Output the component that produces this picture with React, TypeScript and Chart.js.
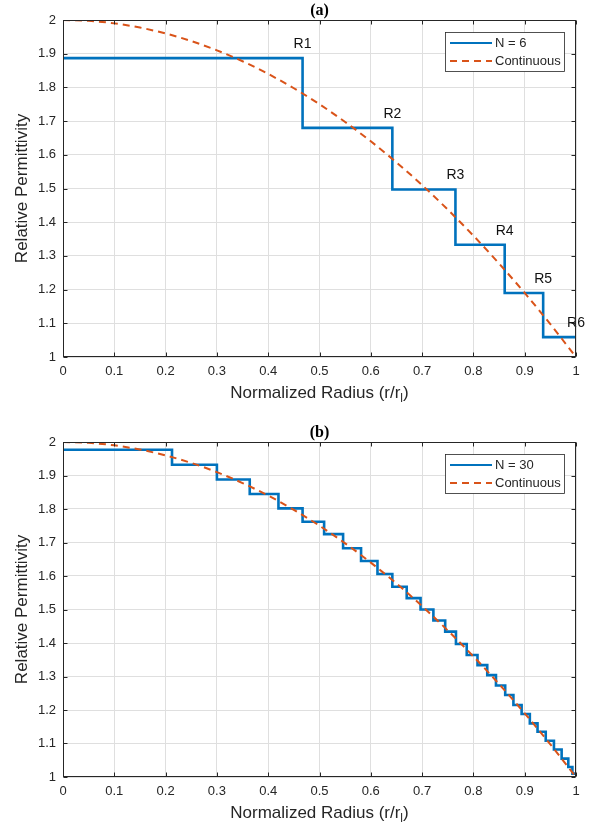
import React, { useEffect, useRef } from "react";
import { Chart, registerables } from "chart.js";

Chart.register(...registerables);

// ---------- data ----------
const X_TICKS = [0, 0.1, 0.2, 0.3, 0.4, 0.5, 0.6, 0.7, 0.8, 0.9, 1];
const X_TICK_LABELS = ["0", "0.1", "0.2", "0.3", "0.4", "0.5", "0.6", "0.7", "0.8", "0.9", "1"];
const Y_TICKS = [1, 1.1, 1.2, 1.3, 1.4, 1.5, 1.6, 1.7, 1.8, 1.9, 2];
const Y_TICK_LABELS = ["1", "1.1", "1.2", "1.3", "1.4", "1.5", "1.6", "1.7", "1.8", "1.9", "2"];

const CONT_R = [0, 0.05, 0.1, 0.15, 0.2, 0.25, 0.3, 0.35, 0.4, 0.45, 0.5, 0.55, 0.6, 0.65, 0.7, 0.75, 0.8, 0.85, 0.9, 0.95, 1];
const CONT_EPS = [2, 1.9975, 1.99, 1.9775, 1.96, 1.9375, 1.91, 1.8775, 1.84, 1.7975, 1.75, 1.6975, 1.64, 1.5775, 1.51, 1.4375, 1.36, 1.2775, 1.19, 1.0975, 1];

const N6_EDGES = [0, 0.467, 0.642, 0.765, 0.861, 0.936, 1];
const N6_LEVELS = [1.887, 1.68, 1.497, 1.333, 1.19, 1.059];
const N6_LABELS = ["R1", "R2", "R3", "R4", "R5", "R6"];

const N30_EDGES = [0, 0.2125, 0.3, 0.364, 0.42, 0.467, 0.509, 0.546, 0.581, 0.613, 0.642, 0.67, 0.697, 0.722, 0.745, 0.766, 0.787, 0.808, 0.827, 0.844, 0.862, 0.878, 0.894, 0.91, 0.925, 0.941, 0.957, 0.972, 0.985, 0.993, 1];
const N30_LEVELS = [1.977, 1.932, 1.888, 1.845, 1.802, 1.762, 1.725, 1.683, 1.645, 1.606, 1.568, 1.534, 1.5, 1.467, 1.434, 1.397, 1.364, 1.334, 1.304, 1.273, 1.245, 1.215, 1.188, 1.16, 1.135, 1.108, 1.082, 1.055, 1.03, 1.01];

// ---------- styles ----------
const BLUE = "#0072BD";
const ORANGE = "#D95319";
const AXIS = "#262626";
const GRID = "#dfdfdf";
const SANS = '"Liberation Sans", Arial, sans-serif';
const SERIF = '"Liberation Serif", "Times New Roman", serif';
const DASH = [7, 5];

type PanelCfg = {
  title: string;
  stepLabel: string;
  edges: number[];
  levels: number[];
  rLabels?: string[];
  padTop: number;
  xHeight: number;
};

function stepPoints(edges: number[], levels: number[]) {
  const pts = levels.map((v, i) => ({ x: edges[i], y: v }));
  pts.push({ x: edges[edges.length - 1], y: levels[levels.length - 1] });
  return pts;
}

function decorPlugin(cfg: PanelCfg) {
  return {
    id: "matlabDecor",
    afterDraw(chart: any) {
      const { ctx, chartArea: a, scales } = chart;
      const xs = scales.x;
      const ys = scales.y;
      ctx.save();

      // R labels
      if (cfg.rLabels) {
        ctx.fillStyle = "#111";
        ctx.font = `14px ${SANS}`;
        ctx.textAlign = "center";
        ctx.textBaseline = "middle";
        cfg.rLabels.forEach((t, i) => {
          const px = xs.getPixelForValue(cfg.edges[i + 1]);
          const py = ys.getPixelForValue(cfg.levels[i]) - 14;
          ctx.fillText(t, px, py);
        });
      }

      // box
      const L = Math.round(a.left) + 0.5;
      const R = Math.round(a.right) - 0.5;
      const T = Math.round(a.top) + 0.5;
      const B = Math.round(a.bottom) - 0.5;
      ctx.strokeStyle = AXIS;
      ctx.lineWidth = 1;
      ctx.setLineDash([]);
      ctx.strokeRect(L, T, R - L, B - T);

      // inside ticks
      const tl = 4;
      ctx.beginPath();
      X_TICKS.forEach((v) => {
        const px = Math.round(xs.getPixelForValue(v)) + 0.5;
        ctx.moveTo(px, B);
        ctx.lineTo(px, B - tl);
        ctx.moveTo(px, T);
        ctx.lineTo(px, T + tl);
      });
      Y_TICKS.forEach((v) => {
        const py = Math.round(ys.getPixelForValue(v)) + 0.5;
        ctx.moveTo(L, py);
        ctx.lineTo(L + tl, py);
        ctx.moveTo(R, py);
        ctx.lineTo(R - tl, py);
      });
      ctx.stroke();

      // title
      const cx = (a.left + a.right) / 2;
      ctx.fillStyle = "#000";
      ctx.font = `bold 16px ${SERIF}`;
      ctx.textAlign = "center";
      ctx.textBaseline = "middle";
      ctx.fillText(cfg.title, cx, a.top - 9);

      // x axis title with subscript
      ctx.fillStyle = AXIS;
      ctx.textBaseline = "alphabetic";
      ctx.textAlign = "left";
      const main = "Normalized Radius (r/r";
      const sub = "l";
      const end = ")";
      ctx.font = `17px ${SANS}`;
      const w1 = ctx.measureText(main).width;
      const w3 = ctx.measureText(end).width;
      ctx.font = `12px ${SANS}`;
      const w2 = ctx.measureText(sub).width;
      const total = w1 + w2 + w3;
      let sx = cx - total / 2;
      const base = a.bottom + 41;
      ctx.font = `17px ${SANS}`;
      ctx.fillText(main, sx, base);
      sx += w1;
      ctx.font = `12px ${SANS}`;
      ctx.fillText(sub, sx, base + 4);
      sx += w2;
      ctx.font = `17px ${SANS}`;
      ctx.fillText(end, sx, base);

      // y axis title
      ctx.save();
      ctx.translate(22, (a.top + a.bottom) / 2);
      ctx.rotate(-Math.PI / 2);
      ctx.textAlign = "center";
      ctx.textBaseline = "middle";
      ctx.font = `17px ${SANS}`;
      ctx.fillText("Relative Permittivity", 0, 0);
      ctx.restore();

      // legend
      const lx = 445.5;
      const ly = Math.round(a.top) + 12.5;
      const lw = 119;
      const lh = 39;
      ctx.fillStyle = "#fff";
      ctx.fillRect(lx, ly, lw, lh);
      ctx.strokeStyle = AXIS;
      ctx.lineWidth = 0.8;
      ctx.strokeRect(lx, ly, lw, lh);
      const entries = [
        { label: cfg.stepLabel, color: BLUE, dash: [] as number[], w: 2.2 },
        { label: "Continuous", color: ORANGE, dash: DASH, w: 2 },
      ];
      entries.forEach((e, i) => {
        const yy = ly + 10.5 + i * 18;
        ctx.beginPath();
        ctx.strokeStyle = e.color;
        ctx.lineWidth = e.w;
        ctx.setLineDash(e.dash);
        ctx.moveTo(450, yy);
        ctx.lineTo(492, yy);
        ctx.stroke();
        ctx.setLineDash([]);
        ctx.fillStyle = AXIS;
        ctx.font = `13px ${SANS}`;
        ctx.textAlign = "left";
        ctx.textBaseline = "middle";
        ctx.fillText(e.label, 495, yy + 0.5);
      });

      ctx.restore();
    },
  };
}

function Panel({ cfg }: { cfg: PanelCfg }) {
  const ref = useRef<HTMLCanvasElement | null>(null);
  useEffect(() => {
    if (!ref.current) return;
    const chart = new Chart(ref.current, {
      type: "line",
      data: {
        datasets: [
          {
            label: cfg.stepLabel,
            data: stepPoints(cfg.edges, cfg.levels),
            stepped: "before",
            borderColor: BLUE,
            borderWidth: 2.6,
            pointRadius: 0,
            fill: false,
            order: 1,
          },
          {
            label: "Continuous",
            data: CONT_R.map((r, i) => ({ x: r, y: CONT_EPS[i] })),
            borderColor: ORANGE,
            borderWidth: 2,
            borderDash: DASH,
            pointRadius: 0,
            fill: false,
            cubicInterpolationMode: "monotone",
            order: 0,
          },
        ],
      } as any,
      options: {
        animation: false,
        responsive: false,
        parsing: false,
        layout: { padding: { top: cfg.padTop, right: 20, left: 0, bottom: 0 } },
        plugins: {
          legend: { display: false },
          title: { display: false },
          tooltip: { enabled: false },
        },
        scales: {
          x: {
            type: "linear",
            min: 0,
            max: 1,
            afterBuildTicks: (s: any) => {
              s.ticks = X_TICKS.map((v) => ({ value: v }));
            },
            afterFit: (s: any) => {
              s.height = cfg.xHeight;
            },
            ticks: {
              callback: (_v: any, i: number) => X_TICK_LABELS[i],
              color: AXIS,
              font: { family: SANS, size: 13 },
              padding: 7,
              maxRotation: 0,
              autoSkip: false,
            },
            grid: { color: GRID, drawTicks: false, lineWidth: 1 },
            border: { display: false },
          },
          y: {
            type: "linear",
            min: 1,
            max: 2,
            afterBuildTicks: (s: any) => {
              s.ticks = Y_TICKS.map((v) => ({ value: v }));
            },
            afterFit: (s: any) => {
              s.width = 63;
            },
            ticks: {
              callback: (_v: any, i: number) => Y_TICK_LABELS[i],
              color: AXIS,
              font: { family: SANS, size: 13 },
              padding: 7,
              autoSkip: false,
            },
            grid: { color: GRID, drawTicks: false, lineWidth: 1 },
            border: { display: false },
          },
        },
      } as any,
      plugins: [decorPlugin(cfg)],
    });
    return () => chart.destroy();
  }, [cfg]);
  return <canvas ref={ref} width={596} height={414} style={{ display: "block" }} />;
}

const PANEL_A: PanelCfg = {
  title: "(a)",
  stepLabel: "N = 6",
  edges: N6_EDGES,
  levels: N6_LEVELS,
  rLabels: N6_LABELS,
  padTop: 20,
  xHeight: 57,
};

const PANEL_B: PanelCfg = {
  title: "(b)",
  stepLabel: "N = 30",
  edges: N30_EDGES,
  levels: N30_LEVELS,
  padTop: 28,
  xHeight: 51,
};

export default function App() {
  return (
    <div
      style={{
        position: "absolute",
        left: 0,
        top: 0,
        width: 596,
        height: 828,
        background: "#fff",
      }}
    >
      <Panel cfg={PANEL_A} />
      <Panel cfg={PANEL_B} />
    </div>
  );
}
